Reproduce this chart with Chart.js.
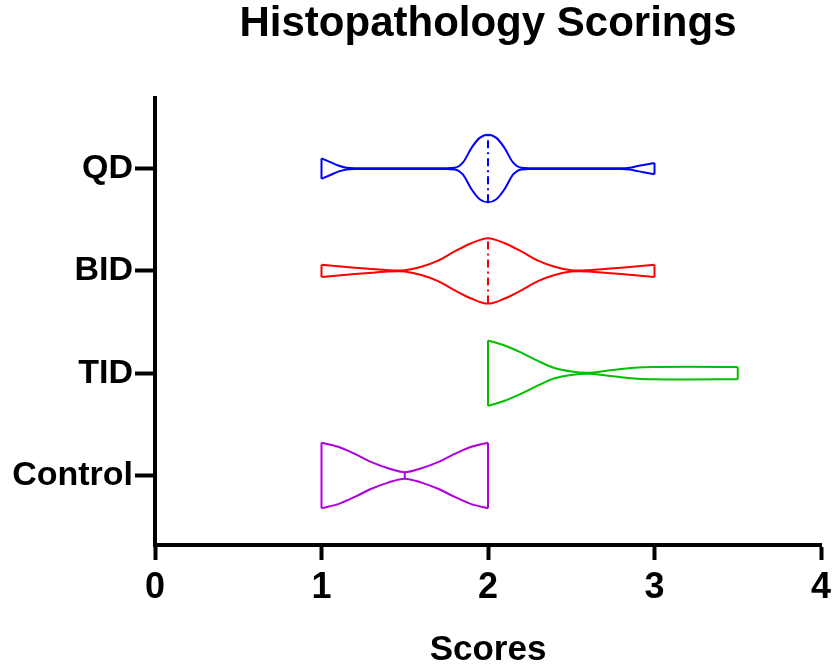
<!DOCTYPE html>
<html>
<head>
<meta charset="utf-8">
<title>Histopathology Scorings</title>
<script src="https://cdn.jsdelivr.net/npm/chart.js@4.4.0/dist/chart.umd.min.js"></script>
<style>
  html, body { margin: 0; padding: 0; background: #ffffff; }
  #wrap { width: 833px; height: 672px; }
</style>
</head>
<body>
<div id="wrap"><canvas id="chart" width="833" height="672"></canvas></div>
<script>
// Groups from bottom (position 0) to top (position 3)
const groups = ['Control', 'TID', 'BID', 'QD'];
const xTicks = [0, 1, 2, 3, 4];

// Violin outlines: score positions and half-widths (in category units)
const qdScores  = [1.0, 1.05, 1.1, 1.15, 1.2, 1.5, 1.75, 1.8, 1.85, 1.9, 1.95, 2.0, 2.05, 2.1, 2.15, 2.2, 2.25, 2.5, 2.8, 2.85, 2.9, 2.95, 3.0];
const qdWidth   = [0.10, 0.065, 0.03, 0.008, 0.003, 0.003, 0.004, 0.008, 0.06, 0.20, 0.30, 0.33, 0.30, 0.20, 0.06, 0.008, 0.004, 0.003, 0.003, 0.008, 0.025, 0.04, 0.055];
const qdMedian  = 2;

const bidScores = [1.0, 1.1, 1.2, 1.3, 1.4, 1.46, 1.5, 1.6, 1.7, 1.8, 1.9, 2.0, 2.1, 2.2, 2.3, 2.4, 2.5, 2.55, 2.6, 2.7, 2.8, 2.9, 3.0];
const bidWidth  = [0.06, 0.045, 0.03, 0.018, 0.007, 0.003, 0.006, 0.04, 0.10, 0.19, 0.27, 0.32, 0.27, 0.19, 0.10, 0.04, 0.006, 0.003, 0.007, 0.018, 0.03, 0.045, 0.06];
const bidMedian = 2;

const tidScores = [2.0, 2.1, 2.2, 2.3, 2.4, 2.5, 2.6, 2.7, 2.8, 2.9, 3.0, 3.2, 3.5];
const tidWidth  = [0.32, 0.27, 0.20, 0.12, 0.05, 0.017, 0.005, 0.02, 0.04, 0.055, 0.06, 0.062, 0.06];
const tidMedian = 2;

const ctrlScores = [1.0, 1.1, 1.2, 1.3, 1.4, 1.5, 1.6, 1.7, 1.8, 1.9, 2.0];
const ctrlWidth  = [0.32, 0.28, 0.21, 0.13, 0.07, 0.032, 0.07, 0.13, 0.21, 0.28, 0.32];
const ctrlMedian = 1.5;

const colors = {
    QD: '#0000ff',
    BID: '#ff0000',
    TID: '#00c000',
    Control: '#b000e0'
};

const FONT = '"Liberation Sans", Arial, Helvetica, sans-serif';

// Turn one violin into line datasets (upper edge, lower edge, end caps, median)
function violinDatasets(name, scores, widths, median) {
    const pos = groups.indexOf(name);
    const color = colors[name];
    const base = {
        borderColor: color,
        backgroundColor: color,
        borderWidth: 2,
        pointRadius: 0,
        showLine: true,
        fill: false
    };
    const last = scores.length - 1;
    const mi = scores.indexOf(median);
    const mw = widths[mi];
    return [
        { ...base, label: name + ' upper', cubicInterpolationMode: 'monotone',
          data: scores.map((s, i) => ({ x: s, y: pos + widths[i] })) },
        { ...base, label: name + ' lower', cubicInterpolationMode: 'monotone',
          data: scores.map((s, i) => ({ x: s, y: pos - widths[i] })) },
        { ...base, label: name + ' left',
          data: [{ x: scores[0], y: pos - widths[0] }, { x: scores[0], y: pos + widths[0] }] },
        { ...base, label: name + ' right',
          data: [{ x: scores[last], y: pos - widths[last] }, { x: scores[last], y: pos + widths[last] }] },
        { ...base, label: name + ' median', borderWidth: 2, borderDash: [8, 4, 2, 4],
          data: [{ x: median, y: pos - mw }, { x: median, y: pos + mw }] }
    ];
}

const datasets = [
    ...violinDatasets('QD', qdScores, qdWidth, qdMedian),
    ...violinDatasets('BID', bidScores, bidWidth, bidMedian),
    ...violinDatasets('TID', tidScores, tidWidth, tidMedian),
    ...violinDatasets('Control', ctrlScores, ctrlWidth, ctrlMedian)
];

const canvas = document.getElementById('chart');
canvas.chart = new Chart(canvas, {
    type: 'scatter',
    data: { datasets: datasets },
    options: {
        responsive: false,
        animation: false,
        layout: { padding: { left: 0, right: 12, top: 0, bottom: 0 } },
        plugins: {
            legend: { display: false },
            tooltip: { enabled: false },
            title: {
                display: true,
                text: 'Histopathology Scorings',
                color: '#000000',
                fullSize: false,
                font: { family: FONT, size: 42, weight: 'bold', lineHeight: 1 },
                padding: { top: 3, bottom: 53 }
            }
        },
        scales: {
            x: {
                type: 'linear',
                min: 0,
                max: 4,
                afterBuildTicks: (scale) => { scale.ticks = xTicks.map(v => ({ value: v })); },
                afterFit: (scale) => {
                    scale.height = 127;
                    scale.paddingLeft = 0;
                    scale.paddingRight = 0;
                },
                border: { display: true, width: 4, color: '#000000' },
                grid: { display: true, drawOnChartArea: false, drawTicks: true, tickLength: 15, tickWidth: 4, tickColor: '#000000' },
                ticks: {
                    color: '#000000',
                    padding: 6,
                    maxRotation: 0,
                    font: { family: FONT, size: 36, weight: 'bold' }
                },
                title: {
                    display: true,
                    text: 'Scores',
                    color: '#000000',
                    font: { family: FONT, size: 35, weight: 'bold', lineHeight: 1 },
                    padding: { top: 0, bottom: 4 }
                }
            },
            y: {
                type: 'linear',
                min: -0.68,
                max: 3.69,
                afterBuildTicks: (scale) => { scale.ticks = groups.map((g, i) => ({ value: i })); },
                afterFit: (scale) => { scale.width = 155; },
                border: { display: true, width: 4, color: '#000000' },
                grid: { display: true, drawOnChartArea: false, drawTicks: true, tickLength: 20, tickWidth: 4, tickColor: '#000000' },
                ticks: {
                    color: '#000000',
                    padding: 2,
                    font: { family: FONT, size: 34, weight: 'bold' },
                    callback: (value) => groups[value] ?? ''
                }
            }
        }
    }
});
</script>
</body>
</html>
